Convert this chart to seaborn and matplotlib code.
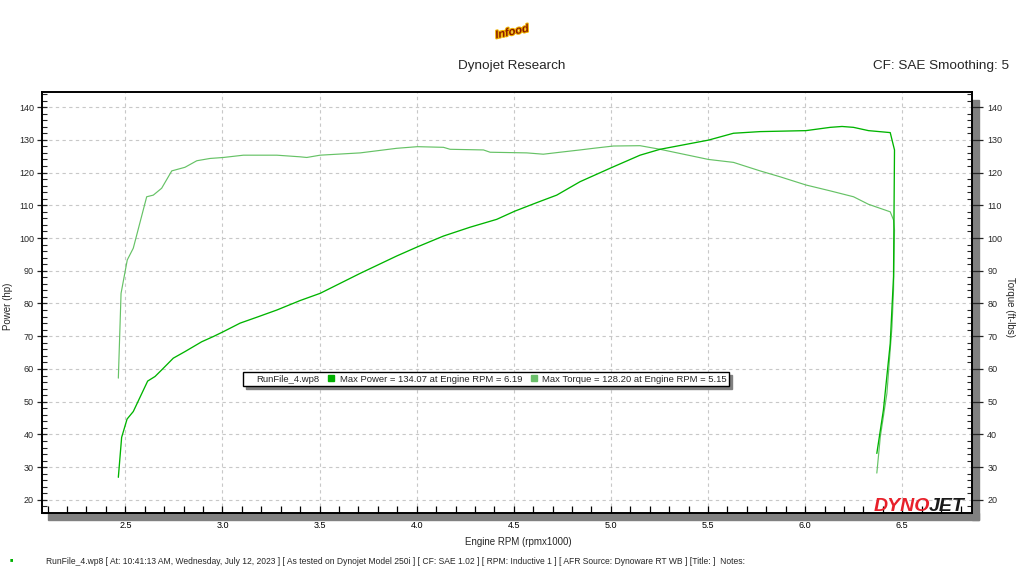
import pandas as pd
import seaborn as sns
from matplotlib import pyplot as plt
from matplotlib.lines import Line2D
from matplotlib.patches import Rectangle
from matplotlib.ticker import MultipleLocator
import matplotlib.patheffects as pe

# dyno run values (rpm x1000)
power_rpm = [2.464, 2.481, 2.509, 2.541, 2.615, 2.653, 2.687, 2.747, 2.807, 2.893, 2.953, 3.005,
             3.091, 3.177, 3.28, 3.4, 3.503, 3.709, 3.897, 4.004, 4.138, 4.275, 4.412, 4.505,
             4.618, 4.721, 4.841, 5.003, 5.15, 5.253, 5.502, 5.631, 5.768, 6.004, 6.129, 6.19,
             6.249, 6.326, 6.438, 6.46, 6.455, 6.438, 6.403, 6.369]
power_hp = [26.9, 39.1, 44.7, 47.0, 56.3, 57.7, 59.7, 63.3, 65.3, 68.3, 69.9, 71.4,
            74.0, 75.8, 78.0, 80.9, 83.1, 89.2, 94.5, 97.3, 100.6, 103.3, 105.7, 108.2,
            110.8, 113.1, 117.2, 121.5, 125.3, 127.1, 129.9, 132.0, 132.5, 132.8, 133.8, 134.07,
            133.8, 132.8, 132.2, 126.9, 88.2, 67.8, 47.5, 34.2]

torque_rpm = [2.464, 2.478, 2.51, 2.541, 2.61, 2.644, 2.687, 2.739, 2.807, 2.868, 2.936, 3.005,
              3.108, 3.28, 3.4, 3.434, 3.503, 3.709, 3.897, 4.004, 4.138, 4.172, 4.344, 4.378,
              4.567, 4.652, 4.738, 4.841, 4.91, 5.013, 5.15, 5.253, 5.502, 5.631, 5.768, 5.871,
              6.004, 6.129, 6.249, 6.326, 6.438, 6.455, 6.46, 6.455, 6.447, 6.421, 6.387, 6.369]
torque_ftlb = [57.2, 83.1, 93.3, 96.9, 112.6, 113.1, 115.2, 120.5, 121.6, 123.6, 124.3, 124.6,
               125.3, 125.3, 124.8, 124.6, 125.3, 126.0, 127.4, 127.9, 127.7, 127.1, 126.9, 126.2,
               126.0, 125.6, 126.2, 126.9, 127.4, 128.1, 128.2, 127.1, 124.0, 123.1, 120.5, 118.7,
               116.2, 114.4, 112.6, 110.3, 108.0, 105.5, 102.4, 84.1, 72.9, 52.6, 39.3, 28.2]

run_name = "RunFile_4.wp8"
max_power_label = "Max Power = 134.07 at Engine RPM = 6.19"
max_torque_label = "Max Torque = 128.20 at Engine RPM = 5.15"
footer = ("RunFile_4.wp8 [ At: 10:41:13 AM, Wednesday, July 12, 2023 ] [ As tested on Dynojet Model 250i ] "
          "[ CF: SAE 1.02 ] [ RPM: Inductive 1 ] [ AFR Source: Dynoware RT WB ] [Title: ]  Notes:")

POWER_C = "#00b400"
TORQUE_C = "#66c266"

sns.set_style("white")
plt.rcParams['font.family'] = ['Liberation Sans', 'DejaVu Sans']

W, H = 1024, 576
fig = plt.figure(figsize=(W / 100, H / 100), dpi=100)


def fx(px):
    return px / W


def fy(py):
    return 1 - py / H


ax = fig.add_axes([fx(42), fy(513), fx(972) - fx(42), fy(92) - fy(513)])
ax2 = ax.twinx()

power_df = pd.DataFrame({"rpm": power_rpm, "hp": power_hp})
torque_df = pd.DataFrame({"rpm": torque_rpm, "tq": torque_ftlb})
sns.lineplot(data=torque_df, x="rpm", y="tq", sort=False, estimator=None, ax=ax2,
             color=TORQUE_C, lw=0.85)
sns.lineplot(data=power_df, x="rpm", y="hp", sort=False, estimator=None, ax=ax2,
             color=POWER_C, lw=0.95)

for a in (ax, ax2):
    a.set_xlim(2.071, 6.859)
    a.set_ylim(16.0, 144.6)
    for s in a.spines.values():
        s.set_color("black")
        s.set_linewidth(1.2)

ax.xaxis.set_major_locator(MultipleLocator(0.5))
ax.xaxis.set_minor_locator(MultipleLocator(0.1))
ax.yaxis.set_major_locator(MultipleLocator(10))
ax.yaxis.set_minor_locator(MultipleLocator(2))
ax2.yaxis.set_major_locator(MultipleLocator(10))
ax2.yaxis.set_minor_locator(MultipleLocator(2))
ax.set_xticks([2.5, 3.0, 3.5, 4.0, 4.5, 5.0, 5.5, 6.0, 6.5])
ax.set_xticklabels(["2.5", "3.0", "3.5", "4.0", "4.5", "5.0", "5.5", "6.0", "6.5"])

ax.grid(True, which="major", color="#c8c8c8", linestyle=(0, (3, 3)), linewidth=0.8)
ax.set_axisbelow(True)

ax.tick_params(axis="x", which="both", direction="in", length=5, width=0.9,
               bottom=True, top=False, labelsize=6.5, pad=5.5, colors="black")
ax.tick_params(axis="y", which="major", direction="inout", length=7.5, width=0.9,
               left=True, right=False, labelsize=6.5, pad=2)
ax.tick_params(axis="y", which="minor", direction="in", length=3.5, width=0.8, left=True, right=False)
ax2.tick_params(axis="y", which="major", direction="out", length=8, width=0.9,
                right=True, labelsize=6.5, pad=3)
ax2.tick_params(axis="y", which="minor", direction="in", length=3.5, width=0.8, right=True)

ax.set_xlabel("Engine RPM (rpmx1000)", fontsize=7)
ax.xaxis.set_label_coords((518 - 42) / 930, -(537 - 513) / 421)
ax.set_ylabel("Power (hp)", fontsize=7, va="center")
ax.yaxis.set_label_coords(-(34) / 930, 0.49)
ax2.set_ylabel("Torque (ft-lbs)", fontsize=7, rotation=-90, va="center")
ax2.yaxis.set_label_coords(1 + (1010 - 972) / 930, 0.49)
ax2.set_xlabel("")

# grey drop shadow of the plot frame
fig.patches.append(Rectangle((fx(48), fy(520)), fx(979) - fx(48), 7 / H,
                             transform=fig.transFigure, color="#808080", zorder=-1))
fig.patches.append(Rectangle((fx(972), fy(520)), 7 / W, (520 - 100) / H,
                             transform=fig.transFigure, color="#808080", zorder=-1))

# legend strip
handles = [Line2D([], [], linestyle="none"),
           Line2D([], [], linestyle="none", marker="s", markersize=5, color="#00b000"),
           Line2D([], [], linestyle="none", marker="s", markersize=5, color="#6abf6a")]
leg = ax2.legend(handles, [run_name, max_power_label, max_torque_label], ncol=3,
                 loc="center", bbox_to_anchor=(fx(486), fy(379)), bbox_transform=fig.transFigure,
                 fontsize=6.8, frameon=True, fancybox=False, shadow={"color": "#808080", "alpha": 1},
                 borderpad=0.25, handlelength=0.6, handletextpad=0.6, columnspacing=0.9,
                 borderaxespad=0)
leg.get_frame().set_edgecolor("black")
leg.get_frame().set_linewidth(1.0)

# header
fig.text(fx(512), fy(66), "Dynojet Research", ha="center", va="center", fontsize=9.7)
fig.text(fx(1009), fy(66), "CF: SAE Smoothing: 5", ha="right", va="center", fontsize=9.7)
fig.text(fx(512), fy(32), "Infood", ha="center", va="center", fontsize=8, fontweight="bold",
         style="italic", rotation=12, color="#8b1a00",
         path_effects=[pe.withStroke(linewidth=1.5, foreground="#f0b400")])

# DYNOJET mark
fig.text(fx(930), fy(515), "DYNO", ha="right", va="bottom", fontsize=14, fontweight="bold",
         style="italic", color="#e8202a")
fig.text(fx(929), fy(515), "JET", ha="left", va="bottom", fontsize=14, fontweight="bold",
         style="italic", color="#1a1a1a")

# footer
fig.text(fx(10), fy(560), "■", ha="left", va="center", fontsize=4, color="#00b000")
fig.text(fx(46), fy(561), footer, ha="left", va="center", fontsize=6.15)

fig.savefig("out.png", dpi=100)
